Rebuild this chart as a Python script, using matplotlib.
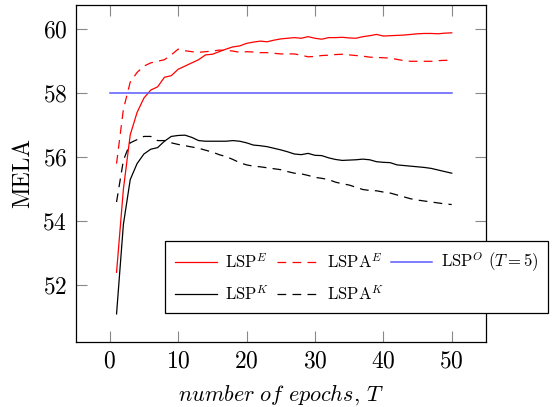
import numpy as np
import matplotlib
matplotlib.use("Agg")
import matplotlib.pyplot as plt

plt.rcParams['font.family'] = 'cmr10'
plt.rcParams['mathtext.fontset'] = 'cm'
plt.rcParams['axes.formatter.use_mathtext'] = True

epochs = np.arange(1, 51)

lsp_e = [52.4, 55.0, 56.7, 57.4, 57.85, 58.1, 58.2, 58.5, 58.55, 58.75,
         58.85, 58.95, 59.05, 59.2, 59.22, 59.3, 59.38, 59.45, 59.48, 59.56,
         59.6, 59.63, 59.61, 59.66, 59.7, 59.72, 59.74, 59.72, 59.77, 59.72,
         59.69, 59.74, 59.74, 59.75, 59.73, 59.72, 59.77, 59.8, 59.84, 59.79,
         59.8, 59.81, 59.82, 59.84, 59.86, 59.87, 59.87, 59.86, 59.88, 59.89]

lspa_e = [55.8, 57.5, 58.35, 58.65, 58.85, 58.95, 59.0, 59.05, 59.2, 59.38,
          59.33, 59.3, 59.28, 59.3, 59.32, 59.35, 59.34, 59.32, 59.28, 59.3,
          59.29, 59.27, 59.27, 59.25, 59.23, 59.23, 59.23, 59.19, 59.14, 59.15,
          59.18, 59.19, 59.21, 59.22, 59.2, 59.18, 59.16, 59.13, 59.12, 59.11,
          59.1, 59.06, 59.02, 59.0, 59.0, 59.0, 59.0, 59.02, 59.03, 59.03]

lsp_k = [51.1, 53.9, 55.3, 55.8, 56.1, 56.25, 56.3, 56.5, 56.65, 56.68,
         56.69, 56.62, 56.52, 56.5, 56.5, 56.5, 56.5, 56.52, 56.5, 56.45,
         56.38, 56.36, 56.33, 56.28, 56.23, 56.17, 56.1, 56.08, 56.12, 56.06,
         56.05, 55.98, 55.93, 55.9, 55.91, 55.92, 55.94, 55.92, 55.86, 55.84,
         55.83, 55.76, 55.74, 55.72, 55.7, 55.68, 55.65, 55.6, 55.55, 55.5]

lspa_k = [54.6, 55.9, 56.45, 56.55, 56.65, 56.65, 56.52, 56.52, 56.45, 56.4,
          56.36, 56.32, 56.28, 56.22, 56.16, 56.08, 56.02, 55.93, 55.83, 55.76,
          55.72, 55.7, 55.67, 55.64, 55.61, 55.55, 55.5, 55.48, 55.43, 55.37,
          55.34, 55.3, 55.22, 55.17, 55.13, 55.06, 54.99, 54.96, 54.95, 54.91,
          54.88, 54.82, 54.76, 54.7, 54.66, 54.63, 54.6, 54.57, 54.54, 54.52]

oracle_T = [0, 50]
oracle = [58.0, 58.0]

fig = plt.figure(figsize=(5.56, 4.07), dpi=100)
ax = fig.add_axes([0.1358, 0.1604, 0.874 - 0.1358, 0.9877 - 0.1604])

dash = (0, (7, 5))
l1, = ax.plot(epochs, lsp_e, color='red', lw=0.9, label=r'LSP$^E$')
l2, = ax.plot(epochs, lspa_e, color='red', lw=0.9, ls=dash, label=r'LSPA$^E$')
l3, = ax.plot(oracle_T, oracle, color='#5a5aff', lw=1.1, label=r'LSP$^O$ $(T=5)$')
l4, = ax.plot(epochs, lsp_k, color='black', lw=0.9, label=r'LSP$^K$')
l5, = ax.plot(epochs, lspa_k, color='black', lw=0.9, ls=dash, label=r'LSPA$^K$')

ax.set_xlim(-5, 55)
ax.set_ylim(50.23, 60.76)
ax.set_xticks([0, 10, 20, 30, 40, 50])
ax.set_yticks([52, 54, 56, 58, 60])
ax.tick_params(direction='in', length=8, width=0.8, color='#888888',
               top=True, right=True, labelsize=17, pad=6)
for s in ax.spines.values():
    s.set_linewidth(0.9)

ax.set_xlabel(r'$\mathit{number\ of\ epochs}$, $T$', fontsize=16, labelpad=7)
ax.set_ylabel('MELA', fontsize=17, labelpad=6)

handles = [l1, l4, l2, l5, l3]
leg = fig.legend(handles, [h.get_label() for h in handles],
                 ncol=3, loc='upper left', bbox_to_anchor=(165 / 556, 1 - 241 / 407),
                 fontsize=12.0, frameon=True, fancybox=False, framealpha=1,
                 edgecolor='black', borderaxespad=0, handlelength=2.5,
                 handletextpad=0.5, columnspacing=0.45, labelspacing=0.8,
                 borderpad=0.6)
leg.get_frame().set_linewidth(0.9)

fig.savefig('out.png', dpi=100)
